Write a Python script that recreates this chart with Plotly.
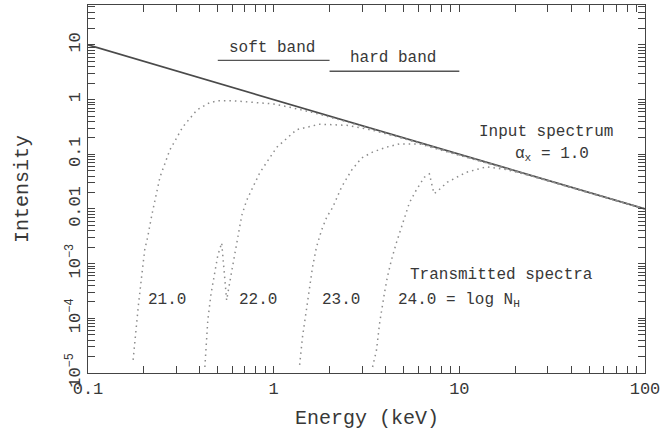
import numpy as np
import plotly.graph_objects as go

# ---- data ----
input_E = [0.1, 100.0]
input_I = [10.0, 0.01]

E_21 = [0.175, 0.179, 0.183, 0.187, 0.195, 0.202, 0.21, 0.221, 0.244, 0.276, 0.324, 0.386, 0.45, 0.5, 0.6, 0.77, 1.0, 1.22, 1.6, 2.5, 5, 10, 30, 100]
logI_21 = [-4.76, -4.40, -4.16, -3.75, -3.2, -2.75, -2.5, -2.1, -1.42, -0.92, -0.50, -0.19, -0.06, -0.02, -0.02, -0.05, -0.08, -0.14, -0.23, -0.41, -0.71, -1.01, -1.48, -2.0]

E_22 = [0.426, 0.442, 0.46, 0.482, 0.50, 0.525, 0.54, 0.558, 0.59, 0.617, 0.673, 0.716, 0.841, 1.04, 1.33, 1.77, 2.47, 3.41, 5, 10, 30, 100]
logI_22 = [-4.89, -4.03, -3.55, -3.12, -2.85, -2.62, -3.1, -3.67, -3.2, -2.81, -2.12, -1.84, -1.34, -0.87, -0.55, -0.45, -0.47, -0.56, -0.71, -1.01, -1.48, -2.0]

E_23 = [1.38, 1.43, 1.50, 1.56, 1.62, 1.70, 1.81, 1.93, 2.08, 2.32, 2.63, 2.97, 3.41, 4.05, 4.76, 6.1, 7.8, 10, 20, 50, 100]
logI_23 = [-4.85, -4.34, -3.85, -3.43, -3.06, -2.70, -2.39, -2.15, -1.97, -1.60, -1.29, -1.07, -0.96, -0.87, -0.81, -0.81, -0.92, -1.02, -1.31, -1.70, -2.0]

E_24 = [3.41, 3.58, 3.72, 3.85, 3.95, 4.10, 4.31, 4.58, 4.88, 5.38, 5.87, 6.48, 6.9, 7.1, 7.3, 7.6, 8.62, 10.9, 14.0, 17.9, 22.9, 40, 100]
logI_24 = [-4.89, -4.58, -4.09, -3.72, -3.54, -3.24, -2.93, -2.62, -2.33, -1.89, -1.65, -1.42, -1.36, -1.55, -1.72, -1.68, -1.51, -1.33, -1.23, -1.28, -1.37, -1.61, -2.0]

soft_band_E = [0.5, 2.0]
soft_band_I = [5.2, 5.2]
hard_band_E = [2.0, 10.0]
hard_band_I = [3.3, 3.3]

x_tickvals = [0.1, 1, 10, 100]
x_ticktext = ["0.1", "1", "10", "100"]
y_tickvals = [1e-5, 1e-4, 1e-3, 0.01, 0.1, 1, 10]
y_ticktext = ["10<sup>\u22125</sup>", "10<sup>\u22124</sup>", "10<sup>\u22123</sup>", "0.01", "0.1", "1", "10"]
x_minor = [k * 10.0 ** n for n in range(-1, 2) for k in range(2, 10)]
y_minor = [k * 10.0 ** n for n in range(-5, 2) for k in range(2, 10)]

curve_labels = ["21.0", "22.0", "23.0", "24.0 = log N<sub>H</sub>"]

FONT = "Liberation Mono"
TXT = "#383838"
AX = "#444444"
XR = [-1, 2]
YR = [-5, 1.73]

fig = go.Figure()
fig.add_trace(go.Scatter(x=input_E, y=input_I, mode="lines",
                         line=dict(color="#4a4a4a", width=1.7), showlegend=False))
for E, L in [(E_21, logI_21), (E_22, logI_22), (E_23, logI_23), (E_24, logI_24)]:
    fig.add_trace(go.Scatter(x=E, y=list(10 ** np.array(L)), mode="lines",
                             line=dict(color="#8c8c8c", width=1.5, dash="1.5px,4px"),
                             showlegend=False))
for bx, by in [(soft_band_E, soft_band_I), (hard_band_E, hard_band_I)]:
    fig.add_trace(go.Scatter(x=bx, y=by, mode="lines",
                             line=dict(color="#555555", width=1.3), showlegend=False))

fig.update_layout(
    xaxis=dict(type="log", range=XR, tickmode="array", tickvals=x_tickvals + x_minor,
               ticktext=x_ticktext + [""] * len(x_minor),
               ticks="inside", ticklen=7, tickwidth=1.2, tickcolor=AX,
               showline=True, linecolor=AX, mirror="allticks",
               gridcolor="rgba(0,0,0,0)",
               tickfont=dict(family=FONT, size=17, color=TXT)),
    yaxis=dict(type="log", range=YR, tickmode="array", tickvals=y_tickvals + y_minor,
               ticktext=y_ticktext + [""] * len(y_minor), tickangle=-90,
               ticks="inside", ticklen=7, tickwidth=1.2, tickcolor=AX,
               showline=True, linecolor=AX, mirror="allticks",
               gridcolor="rgba(0,0,0,0)",
               tickfont=dict(family=FONT, size=17, color=TXT)),
    width=667, height=432,
    margin=dict(l=88, r=22, t=5, b=59),
    paper_bgcolor="white", plot_bgcolor="white",
    showlegend=False,
)

def ann(text, x, y, size=16, xanchor="center"):
    fig.add_annotation(text=text, x=x, y=y, xref="x", yref="y", showarrow=False,
                       xanchor=xanchor, yanchor="middle",
                       font=dict(family=FONT, size=size, color=TXT))

ann("soft band", -0.01, 0.94)
ann("hard band", 0.645, 0.76)
ann("Input spectrum", 1.468, -0.594)
ann("\u03b1<sub>x</sub> = 1.0", 1.50, -1.01)
ann("Transmitted spectra", 1.226, -3.21)
ann(curve_labels[0], -0.575, -3.67)
ann(curve_labels[1], -0.086, -3.67)
ann(curve_labels[2], 0.360, -3.67)
ann(curve_labels[3], 0.661, -3.67, xanchor="left")

fig.add_annotation(text="Energy (keV)", xref="paper", yref="paper", x=0.5, y=0,
                   yshift=-45, showarrow=False, yanchor="middle",
                   font=dict(family=FONT, size=20, color=TXT))
fig.add_annotation(text="Intensity", xref="paper", yref="paper", x=0, y=0.5,
                   xshift=-66, showarrow=False, xanchor="center", textangle=-90,
                   font=dict(family=FONT, size=20, color=TXT))

fig.write_html("out.html", post_script="document.body.style.margin='0';",
               config={"displayModeBar": False})
